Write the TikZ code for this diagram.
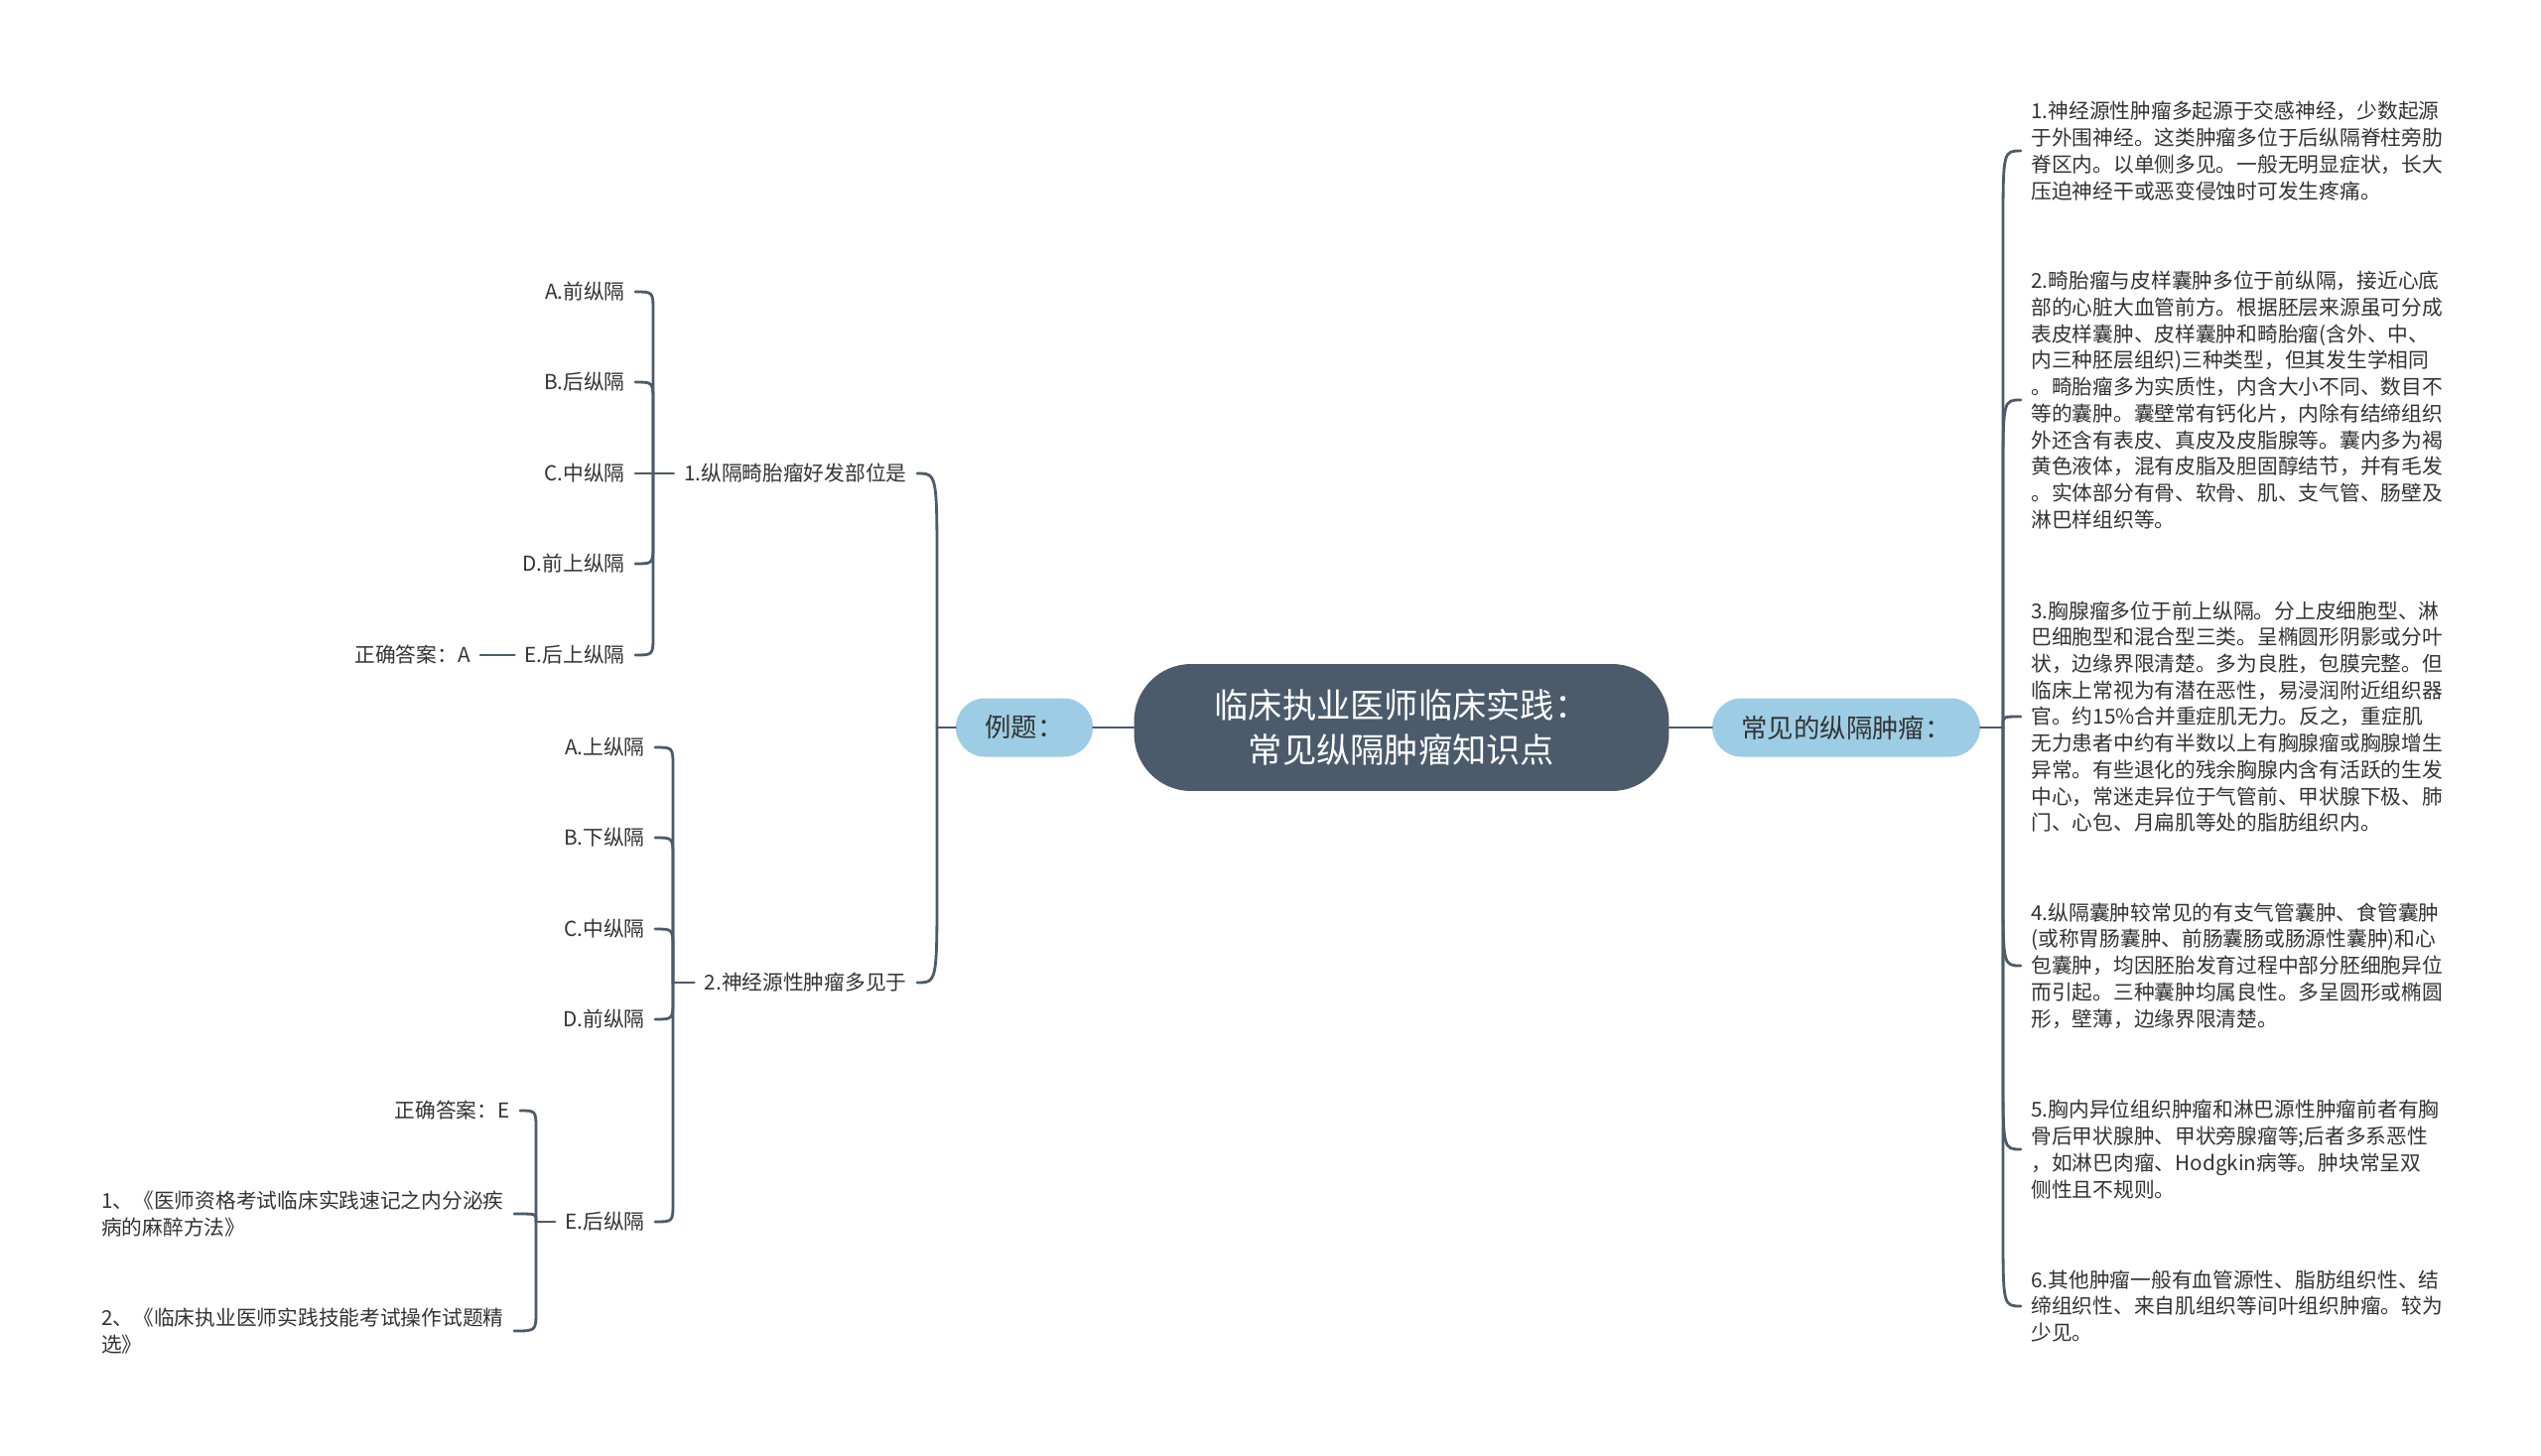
\documentclass[tikz,border=0pt]{standalone}
\usepackage{fontspec}
\setmainfont{Noto Sans CJK SC}
\usepackage{xcolor}
\usetikzlibrary{calc}

\definecolor{slate}{HTML}{4B5B6B}
\definecolor{sky}{HTML}{9DCDE4}
\definecolor{ink}{HTML}{333333}

\begin{document}
\begin{tikzpicture}[
  x=0.02cm, y=-0.02cm,
  font=\fontsize{11.8}{15.2}\selectfont, text=ink,
  root/.style={fill=slate, text=white, rounded corners=1.15cm, align=center,
    minimum width=10.78cm, minimum height=2.56cm, inner sep=0pt,
    font=\fontsize{19.5}{26}\selectfont},
  topic/.style={fill=sky, rounded corners=0.59cm, minimum height=1.18cm,
    inner xsep=0.59cm, inner ysep=0pt, font=\fontsize{15}{18}\selectfont},
  leaf/.style={inner xsep=0.2cm, inner ysep=2pt, align=left},
  lleaf/.style={leaf, anchor=east},
  rleaf/.style={leaf, anchor=west},
  link/.style={draw=slate, line width=1.6pt, line cap=round},
  brace/.style={to path={(\tikztostart) -- ($(\tikztostart |- \tikztotarget)!#1!(\tikztostart)$)
    .. controls (\tikztostart |- \tikztotarget) .. (\tikztotarget)}},
  brace/.default=0.4cm]

\path[use as bounding box, fill=white] (0,0) rectangle (2560,1467);

\node[root] (main) at (1412,733) {临床执业医师临床实践：\\常见纵隔肿瘤知识点};
\node[topic] (ex) at (1032,733) {例题：};
\node[topic] (common) at (1860,733) {常见的纵隔肿瘤：};

\coordinate (jL) at (944,733);
\coordinate (jR) at (2018,733);
\coordinate (j1) at (658,477);
\coordinate (j2) at (678,990);
\coordinate (jE) at (540,1231);

\node[lleaf] (q1) at (924,477) {1.纵隔畸胎瘤好发部位是};
\node[lleaf] (q2) at (924,990) {2.神经源性肿瘤多见于};

\node[lleaf] (q1a) at (640,294) {A.前纵隔};
\node[lleaf] (q1b) at (640,385) {B.后纵隔};
\node[lleaf] (q1c) at (640,477) {C.中纵隔};
\node[lleaf] (q1d) at (640,568) {D.前上纵隔};
\node[lleaf] (q1e) at (640,660) {E.后上纵隔};
\node[lleaf] (ansA) at (484,660) {正确答案：A};

\node[lleaf] (q2a) at (660,753) {A.上纵隔};
\node[lleaf] (q2b) at (660,844) {B.下纵隔};
\node[lleaf] (q2c) at (660,936) {C.中纵隔};
\node[lleaf] (q2d) at (660,1027) {D.前纵隔};
\node[lleaf] (q2e) at (660,1231) {E.后纵隔};
\node[lleaf] (ansE) at (524,1119) {正确答案：E};
\node[lleaf] (book1) at (518,1223) {1、《医师资格考试临床实践速记之内分泌疾\\
病的麻醉方法》};
\node[lleaf] (book2) at (518,1341) {2、《临床执业医师实践技能考试操作试题精\\
选》};

\node[rleaf] (t1) at (2036,152) {1.神经源性肿瘤多起源于交感神经，少数起源\\
于外围神经。这类肿瘤多位于后纵隔脊柱旁肋\\
脊区内。以单侧多见。一般无明显症状，长大\\
压迫神经干或恶变侵蚀时可发生疼痛。};
\node[rleaf] (t2) at (2036,403) {2.畸胎瘤与皮样囊肿多位于前纵隔，接近心底\\
部的心脏大血管前方。根据胚层来源虽可分成\\
表皮样囊肿、皮样囊肿和畸胎瘤(含外、中、\\
内三种胚层组织)三种类型，但其发生学相同\\
。畸胎瘤多为实质性，内含大小不同、数目不\\
等的囊肿。囊壁常有钙化片，内除有结缔组织\\
外还含有表皮、真皮及皮脂腺等。囊内多为褐\\
黄色液体，混有皮脂及胆固醇结节，并有毛发\\
。实体部分有骨、软骨、肌、支气管、肠壁及\\
淋巴样组织等。};
\node[rleaf] (t3) at (2036,722) {3.胸腺瘤多位于前上纵隔。分上皮细胞型、淋\\
巴细胞型和混合型三类。呈椭圆形阴影或分叶\\
状，边缘界限清楚。多为良胜，包膜完整。但\\
临床上常视为有潜在恶性，易浸润附近组织器\\
官。约15\%合并重症肌无力。反之，重症肌\\
无力患者中约有半数以上有胸腺瘤或胸腺增生\\
异常。有些退化的残余胸腺内含有活跃的生发\\
中心，常迷走异位于气管前、甲状腺下极、肺\\
门、心包、月扁肌等处的脂肪组织内。};
\node[rleaf] (t4) at (2036,973) {4.纵隔囊肿较常见的有支气管囊肿、食管囊肿\\
(或称胃肠囊肿、前肠囊肠或肠源性囊肿)和心\\
包囊肿，均因胚胎发育过程中部分胚细胞异位\\
而引起。三种囊肿均属良性。多呈圆形或椭圆\\
形，壁薄，边缘界限清楚。};
\node[rleaf] (t5) at (2036,1158) {5.胸内异位组织肿瘤和淋巴源性肿瘤前者有胸\\
骨后甲状腺肿、甲状旁腺瘤等;后者多系恶性\\
，如淋巴肉瘤、Hodgkin病等。肿块常呈双\\
侧性且不规则。};
\node[rleaf] (t6) at (2036,1316) {6.其他肿瘤一般有血管源性、脂肪组织性、结\\
缔组织性、来自肌组织等间叶组织肿瘤。较为\\
少见。};

\draw[link] (main.west) -- (ex.east);
\draw[link] (main.east) -- (common.west);
\draw[link] (ex.west) -- (jL);
\draw[link] (jL) to[brace=2cm] (q1.east);
\draw[link] (jL) to[brace=2cm] (q2.east);

\draw[link] (q1.west) -- (j1);
\draw[link] (j1) to[brace] (q1a.east);
\draw[link] (j1) to[brace] (q1b.east);
\draw[link] (j1) -- (q1c.east);
\draw[link] (j1) to[brace] (q1d.east);
\draw[link] (j1) to[brace] (q1e.east);
\draw[link] (q1e.west) -- (ansA.east);

\draw[link] (q2.west) -- (j2);
\draw[link] (j2) to[brace] (q2a.east);
\draw[link] (j2) to[brace] (q2b.east);
\draw[link] (j2) to[brace] (q2c.east);
\draw[link] (j2) to[brace] (q2d.east);
\draw[link] (j2) to[brace] (q2e.east);
\draw[link] (q2e.west) -- (jE);
\draw[link] (jE) to[brace] (ansE.east);
\draw[link] (jE) to[brace=0.1cm] (book1.east);
\draw[link] (jE) to[brace] (book2.east);

\draw[link] (common.east) -- (jR);
\draw[link] (jR) to[brace=1.6cm] (t1.west);
\draw[link] (jR) to[brace=1.6cm] (t2.west);
\draw[link] (jR) to[brace=0.15cm] (t3.west);
\draw[link] (jR) to[brace=1.6cm] (t4.west);
\draw[link] (jR) to[brace=1.6cm] (t5.west);
\draw[link] (jR) to[brace=1.6cm] (t6.west);
\end{tikzpicture}
\end{document}
